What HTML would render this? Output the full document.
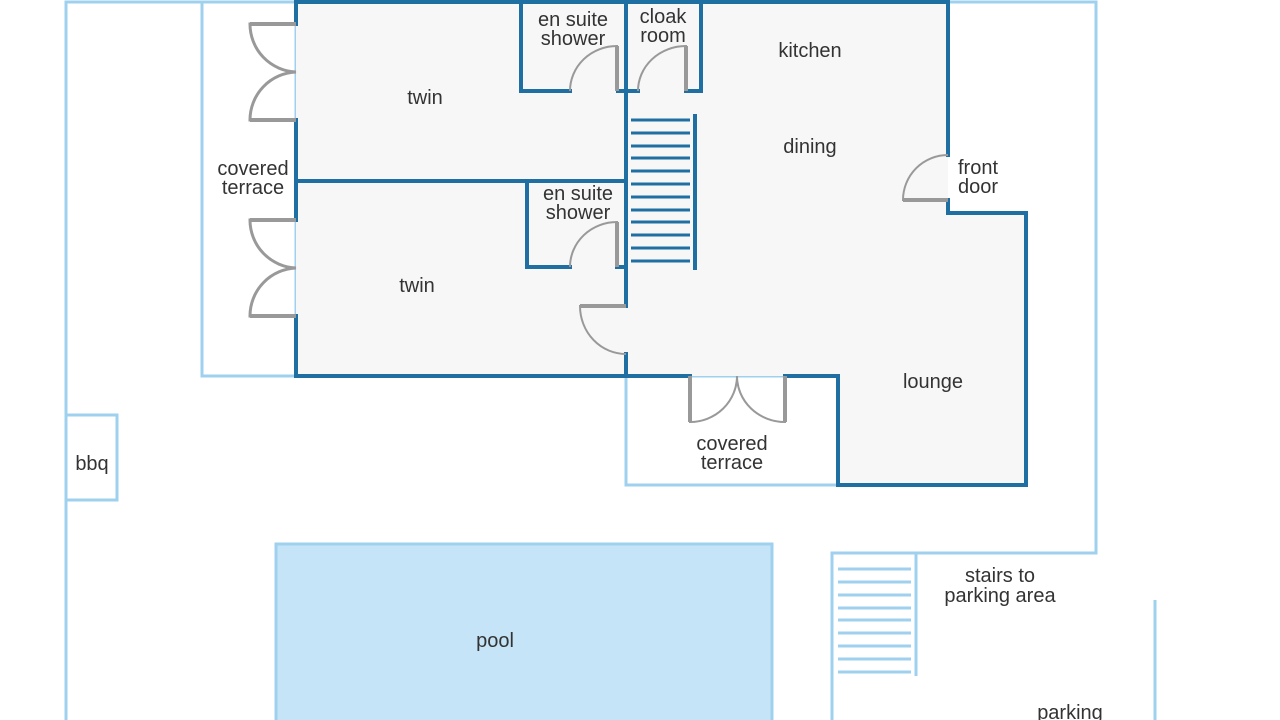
<!DOCTYPE html>
<html><head><meta charset="utf-8"><style>
html,body{margin:0;padding:0;background:#fff;}
svg{display:block;}
text{font-family:"Liberation Sans",sans-serif;font-size:20px;fill:#333;text-anchor:middle;}
</style></head><body>
<svg width="1280" height="720" viewBox="0 0 1280 720" xmlns="http://www.w3.org/2000/svg">
<g fill="none" stroke="#9fd1ef" stroke-width="3">
<polyline points="66,720 66,2 296,2"/>
<polyline points="948,2 1096,2 1096,553 832,553 832,720"/>
<rect x="202" y="2" width="94" height="374"/>
<rect x="66" y="415" width="51" height="85"/>
<rect x="626" y="376" width="212" height="109"/>
<line x1="916" y1="553" x2="916" y2="676"/>
<line x1="1155" y1="600" x2="1155" y2="720"/>
</g>
<g stroke="#9fd1ef" stroke-width="3">
<line x1="838" y1="569" x2="911" y2="569"/><line x1="838" y1="582" x2="911" y2="582"/>
<line x1="838" y1="595" x2="911" y2="595"/><line x1="838" y1="608" x2="911" y2="608"/>
<line x1="838" y1="620" x2="911" y2="620"/><line x1="838" y1="633" x2="911" y2="633"/>
<line x1="838" y1="646" x2="911" y2="646"/><line x1="838" y1="659" x2="911" y2="659"/>
<line x1="838" y1="672" x2="911" y2="672"/>
</g>
<rect x="276" y="544" width="496" height="180" fill="#c5e4f7" stroke="#9fd1ef" stroke-width="3"/>
<polygon points="296,2 948,2 948,213 1026,213 1026,485 838,485 838,376 296,376" fill="#f7f7f7"/>
<g fill="none" stroke="#1f6fa3" stroke-width="4" stroke-linecap="square">
<polyline points="296,24 296,2 948,2 948,155"/>
<polyline points="948,200 948,213 1026,213 1026,485 838,485 838,376 785,376"/>
<polyline points="690,376 296,376 296,316"/>
<line x1="296" y1="120" x2="296" y2="220"/>
<line x1="296" y1="181" x2="626" y2="181"/>
<line x1="626" y1="2" x2="626" y2="306"/>
<line x1="626" y1="354" x2="626" y2="376"/>
<polyline points="521,2 521,91 570,91"/>
<line x1="618" y1="91" x2="638" y2="91"/>
<polyline points="686,91 701,91 701,2"/>
<polyline points="527,181 527,267 570,267"/>
<line x1="617" y1="267" x2="626" y2="267"/>
<line x1="695" y1="116" x2="695" y2="268"/>
</g>
<g stroke="#1f6fa3" stroke-width="3">
<line x1="631" y1="120" x2="690" y2="120"/><line x1="631" y1="133" x2="690" y2="133"/>
<line x1="631" y1="146" x2="690" y2="146"/><line x1="631" y1="158" x2="690" y2="158"/>
<line x1="631" y1="171" x2="690" y2="171"/><line x1="631" y1="184" x2="690" y2="184"/>
<line x1="631" y1="197" x2="690" y2="197"/><line x1="631" y1="210" x2="690" y2="210"/>
<line x1="631" y1="222" x2="690" y2="222"/><line x1="631" y1="235" x2="690" y2="235"/>
<line x1="631" y1="248" x2="690" y2="248"/><line x1="631" y1="261" x2="690" y2="261"/>
</g>
<g fill="none" stroke="#999" stroke-width="2">
<path d="M296,24 L250,24 A48,48 0 0 0 296,72 A48,48 0 0 0 250,120 L296,120" stroke-width="3"/>
<path d="M296,220 L250,220 A48,48 0 0 0 296,268 A48,48 0 0 0 250,316 L296,316" stroke-width="3"/>
<path d="M570,91 A47,45 0 0 1 617,46 L617,91" />
<path d="M638,91 A48,45 0 0 1 686,46 L686,91" />
<path d="M570,267 A47,45 0 0 1 617,222 L617,267" />
<path d="M626,354 A46,48 0 0 1 580,306 L626,306" />
<path d="M948,155 A45,45 0 0 0 903,200 L948,200" />
<path d="M690,376 L690,422 A47,46 0 0 0 737,376 A48,46 0 0 0 785,422 L785,376" />
</g>
<g stroke="#999" stroke-width="4">
<line x1="617" y1="46" x2="617" y2="91"/><line x1="686" y1="46" x2="686" y2="91"/>
<line x1="617" y1="222" x2="617" y2="267"/><line x1="580" y1="306" x2="626" y2="306"/>
<line x1="903" y1="200" x2="948" y2="200"/><line x1="690" y1="376" x2="690" y2="422"/>
<line x1="785" y1="376" x2="785" y2="422"/>
<line x1="250" y1="24" x2="296" y2="24"/><line x1="250" y1="120" x2="296" y2="120"/>
<line x1="250" y1="220" x2="296" y2="220"/><line x1="250" y1="316" x2="296" y2="316"/>
</g>
<text x="425" y="104">twin</text>
<text x="417" y="292">twin</text>
<text x="573" y="26">en suite</text><text x="573" y="45">shower</text>
<text x="578" y="200">en suite</text><text x="578" y="219">shower</text>
<text x="663" y="23">cloak</text><text x="663" y="42">room</text>
<text x="810" y="57">kitchen</text>
<text x="810" y="153">dining</text>
<text x="978" y="174">front</text><text x="978" y="193">door</text>
<text x="253" y="175">covered</text><text x="253" y="194">terrace</text>
<text x="933" y="388">lounge</text>
<text x="732" y="450">covered</text><text x="732" y="469">terrace</text>
<text x="92" y="470">bbq</text>
<text x="495" y="647">pool</text>
<text x="1000" y="582">stairs to</text><text x="1000" y="602">parking area</text>
<text x="1070" y="719">parking</text>
</svg>
</body></html>
